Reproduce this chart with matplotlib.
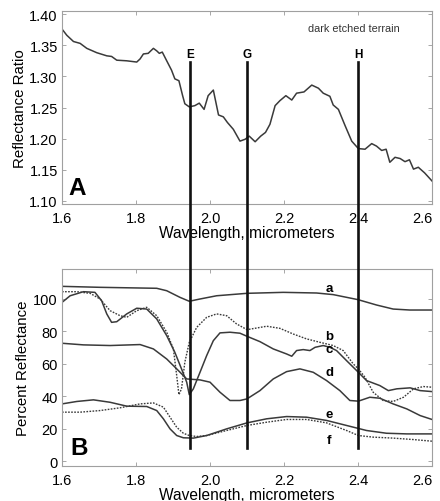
import matplotlib
matplotlib.use("Agg")
import matplotlib.pyplot as plt
from matplotlib.lines import Line2D
import matplotlib.transforms as mtransforms

plt.rcParams['font.family'] = ['Liberation Sans', 'DejaVu Sans']

# Panel A: reflectance ratio, dark etched terrain
wl_a = [1.600, 1.613, 1.631, 1.649, 1.667, 1.694, 1.721, 1.734, 1.748, 1.775, 1.802, 1.811,
        1.820, 1.833, 1.847, 1.856, 1.863, 1.871, 1.883, 1.896, 1.905, 1.916, 1.926, 1.932,
        1.944, 1.959, 1.971, 1.984, 1.995, 2.009, 2.023, 2.036, 2.047, 2.063, 2.081, 2.095,
        2.106, 2.122, 2.137, 2.150, 2.162, 2.176, 2.189, 2.205, 2.221, 2.234, 2.254, 2.275,
        2.293, 2.306, 2.324, 2.333, 2.347, 2.365, 2.383, 2.401, 2.419, 2.437, 2.450, 2.464,
        2.476, 2.486, 2.500, 2.514, 2.527, 2.539, 2.550, 2.563, 2.580, 2.600]
ratio_a = [1.376, 1.366, 1.356, 1.353, 1.345, 1.338, 1.333, 1.332, 1.326, 1.325, 1.323, 1.328,
           1.336, 1.337, 1.345, 1.341, 1.337, 1.339, 1.325, 1.310, 1.296, 1.293, 1.269, 1.256,
           1.251, 1.253, 1.257, 1.247, 1.269, 1.278, 1.238, 1.235, 1.226, 1.215, 1.196, 1.199,
           1.204, 1.195, 1.204, 1.210, 1.223, 1.253, 1.261, 1.269, 1.262, 1.273, 1.275, 1.286,
           1.281, 1.273, 1.268, 1.254, 1.247, 1.221, 1.196, 1.184, 1.183, 1.192, 1.188, 1.181,
           1.183, 1.162, 1.170, 1.168, 1.163, 1.166, 1.151, 1.154, 1.145, 1.132]

# Panel B: library spectra
wl_a_lib = [1.600, 1.703, 1.856, 1.883, 1.919, 1.944, 1.973, 2.018, 2.100, 2.198, 2.288, 2.333,
            2.400, 2.450, 2.495, 2.540, 2.600]
refl_a = [107.8, 107.2, 106.6, 105.1, 101.0, 98.6, 100.0, 102.0, 103.5, 104.1, 103.7, 102.7,
          99.6, 96.3, 93.8, 93.2, 93.2]

wl_b = [1.600, 1.640, 1.676, 1.703, 1.730, 1.757, 1.775, 1.802, 1.829, 1.856, 1.883, 1.901,
        1.910, 1.916, 1.923, 1.932, 1.944, 1.964, 1.991, 2.018, 2.045, 2.072, 2.100, 2.126,
        2.153, 2.189, 2.225, 2.261, 2.297, 2.333, 2.360, 2.387, 2.401, 2.419, 2.441, 2.468,
        2.495, 2.523, 2.550, 2.577, 2.600]
refl_b = [104.5, 104.5, 103.5, 100.0, 92.8, 89.7, 88.7, 92.8, 94.9, 89.7, 79.5, 69.2,
          52.8, 41.0, 44.6, 61.0, 73.3, 82.5, 88.7, 90.8, 89.7, 84.6, 81.1, 82.1,
          83.2, 81.9, 78.4, 75.4, 73.3, 71.3, 68.2, 60.0, 56.9, 51.7, 42.5, 37.4,
          36.8, 39.4, 44.6, 46.0, 45.6]

wl_c = [1.600, 1.622, 1.658, 1.689, 1.707, 1.721, 1.734, 1.748, 1.775, 1.802, 1.829, 1.856,
        1.883, 1.905, 1.923, 1.937, 1.944, 1.955, 1.973, 1.991, 2.009, 2.027, 2.054, 2.081,
        2.100, 2.135, 2.171, 2.207, 2.221, 2.234, 2.252, 2.270, 2.284, 2.306, 2.324, 2.342,
        2.369, 2.401, 2.423, 2.459, 2.482, 2.505, 2.541, 2.568, 2.600]
refl_c = [97.9, 102.0, 104.5, 104.1, 99.0, 90.8, 85.6, 86.0, 90.8, 94.3, 93.8, 87.7,
          77.4, 67.1, 56.9, 48.7, 41.0, 44.6, 54.8, 65.1, 74.3, 79.1, 79.5, 78.9,
          77.0, 73.7, 69.2, 66.1, 64.7, 68.2, 68.8, 68.2, 70.2, 71.3, 70.2, 68.2,
          62.0, 54.8, 49.7, 46.6, 43.5, 44.6, 45.2, 43.5, 42.9]

wl_d = [1.600, 1.658, 1.730, 1.811, 1.847, 1.883, 1.910, 1.937, 1.973, 2.000, 2.027, 2.054,
        2.081, 2.100, 2.135, 2.171, 2.207, 2.243, 2.279, 2.315, 2.351, 2.378, 2.401, 2.432,
        2.459, 2.495, 2.532, 2.568, 2.600]
refl_d = [72.7, 71.7, 71.3, 71.9, 69.2, 63.0, 56.9, 50.7, 50.1, 48.7, 42.5, 37.4,
          37.4, 38.4, 43.5, 50.7, 55.2, 56.9, 54.8, 49.7, 43.5, 37.4, 37.0, 39.4,
          38.8, 35.3, 32.2, 28.1, 25.7]

wl_e = [1.600, 1.640, 1.685, 1.730, 1.775, 1.829, 1.856, 1.874, 1.892, 1.910, 1.928, 1.955,
        1.991, 2.045, 2.100, 2.153, 2.207, 2.261, 2.315, 2.369, 2.423, 2.477, 2.532, 2.600]
refl_e = [35.3, 36.8, 37.8, 36.3, 33.9, 33.7, 31.2, 26.1, 19.9, 15.8, 14.4, 14.2,
          15.8, 19.9, 23.6, 26.1, 27.5, 27.1, 25.1, 22.0, 18.9, 17.2, 16.8, 16.8]

wl_f = [1.600, 1.649, 1.703, 1.757, 1.811, 1.847, 1.874, 1.892, 1.910, 1.928, 1.944, 1.964,
        1.991, 2.045, 2.100, 2.153, 2.207, 2.261, 2.315, 2.369, 2.401, 2.441, 2.495, 2.550, 2.600]
refl_f = [30.2, 30.2, 31.2, 32.9, 35.3, 35.9, 33.3, 27.1, 20.9, 17.2, 15.8, 15.2,
          15.8, 18.9, 22.0, 24.0, 25.7, 25.7, 23.6, 18.9, 15.8, 14.8, 14.2, 13.3, 12.3]

series_labels = ['a', 'b', 'c', 'd', 'e', 'f']
label_y = [106.6, 77.0, 69.0, 55.0, 29.0, 13.0]
band_names = ['E', 'G', 'H']
band_wl = [1.945, 2.10, 2.40]

xticks = [1.6, 1.8, 2.0, 2.2, 2.4, 2.6]
yticks_a = [1.10, 1.15, 1.20, 1.25, 1.30, 1.35, 1.40]
yticks_b = [0, 20, 40, 60, 80, 100]

W, H = 440, 502
fig = plt.figure(figsize=(W / 100, H / 100), dpi=100)
axA = fig.add_axes([62 / W, 1 - 205 / H, 370 / W, 193 / H])
axB = fig.add_axes([62 / W, 1 - 467 / H, 370 / W, 197 / H])

lc = '#3a3a3a'
for ax in (axA, axB):
    ax.set_xlim(1.6, 2.6)
    ax.set_xticks(xticks)
    ax.set_xticklabels(['%.1f' % v for v in xticks])
    ax.tick_params(direction='in', top=True, right=True, length=3, width=0.6,
                   color='#999999', labelsize=10.5)
    ax.tick_params(axis='x', pad=5)
    ax.tick_params(axis='y', pad=3)
    ax.get_xticklabels()[-1].set_horizontalalignment('right')
    for s in ax.spines.values():
        s.set_color('#a0a0a0')
        s.set_linewidth(0.8)
    ax.set_xlabel('Wavelength, micrometers', fontsize=11.2, labelpad=0)

axA.plot(wl_a, ratio_a, color=lc, lw=1.1)
axA.set_ylim(1.095, 1.405)
axA.set_yticks(yticks_a)
axA.set_yticklabels(['%.2f' % v for v in yticks_a])
axA.set_ylabel('Reflectance Ratio', fontsize=10.8, labelpad=2)
axA.text(0.79, 0.912, 'dark etched terrain', transform=axA.transAxes, fontsize=7.8,
         ha='center', va='center', color='#333333')
axA.text(0.016, 0.085, 'A', transform=axA.transAxes, fontsize=17.5, fontweight='bold',
         ha='left', va='center')

axB.plot(wl_a_lib, refl_a, color=lc, lw=1.1)
axB.plot(wl_b, refl_b, color=lc, lw=1.0, ls=(0, (1.2, 1.0)))
axB.plot(wl_c, refl_c, color=lc, lw=1.1)
axB.plot(wl_d, refl_d, color=lc, lw=1.1)
axB.plot(wl_e, refl_e, color=lc, lw=1.1)
axB.plot(wl_f, refl_f, color=lc, lw=1.0, ls=(0, (1.2, 1.0)))
axB.set_ylim(-3, 118.5)
axB.set_yticks(yticks_b)
axB.set_ylabel('Percent Reflectance', fontsize=10.8, labelpad=2)
for lab, yv in zip(series_labels, label_y):
    axB.text(2.322, yv, lab, fontsize=9.5, fontweight='bold', ha='center', va='center')
axB.text(0.022, 0.096, 'B', transform=axB.transAxes, fontsize=17.5, fontweight='bold',
         ha='left', va='center')

trans = mtransforms.blended_transform_factory(axA.transData, fig.transFigure)
for name, xv in zip(band_names, band_wl):
    fig.add_artist(Line2D([xv, xv], [1 - 63 / H, 1 - 449 / H], transform=trans,
                          color='#111111', lw=1.9))
    fig.text(xv, 1 - 55.5 / H, name, transform=trans, fontsize=8.5, fontweight='bold',
             ha='center', va='center')

fig.savefig('out.png', dpi=100)
